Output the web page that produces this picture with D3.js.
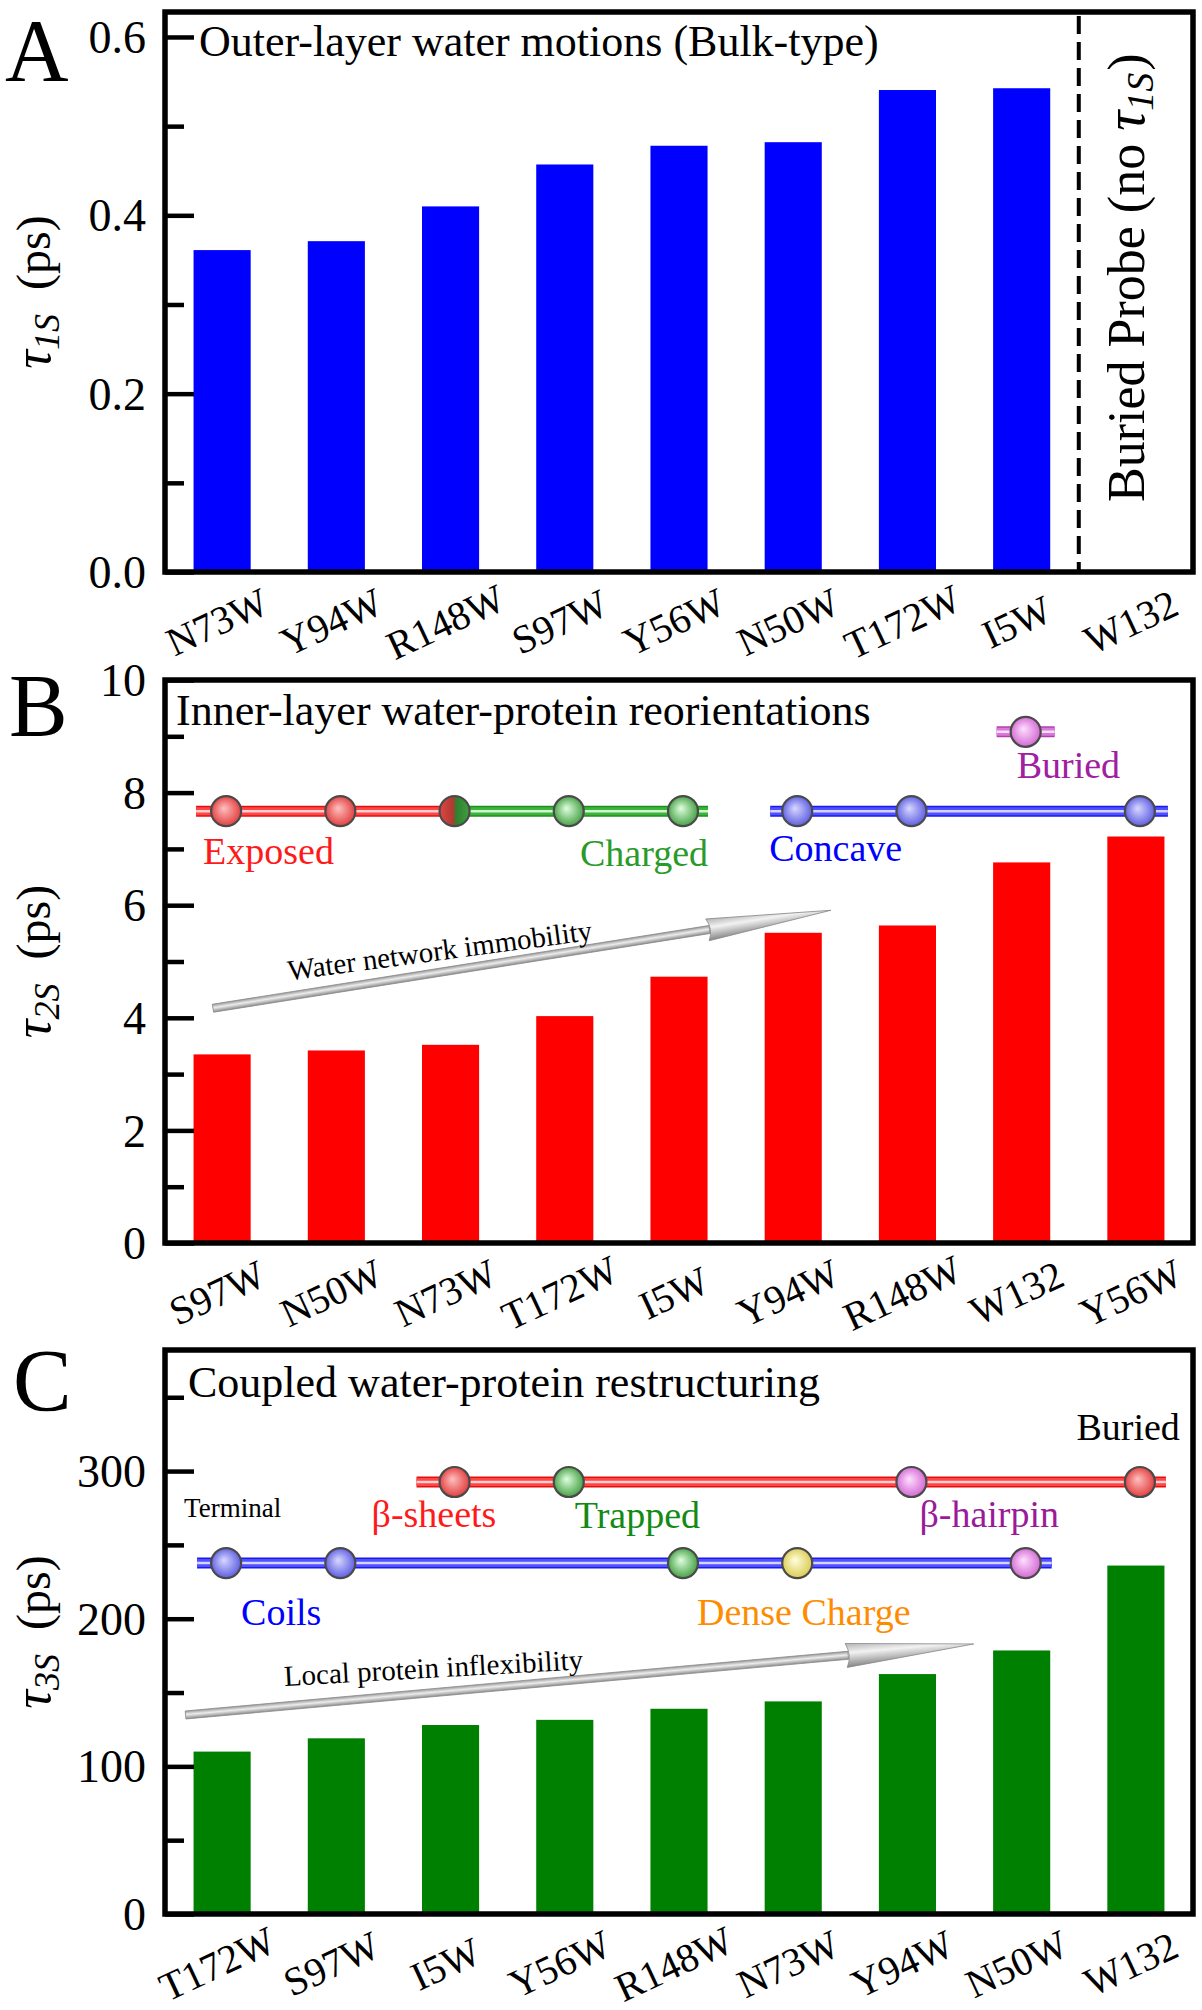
<!DOCTYPE html>
<html><head><meta charset="utf-8">
<script src="https://cdn.jsdelivr.net/npm/d3@7"></script>
<style>
html,body{margin:0;padding:0;background:#fff;}
svg{display:block;}
text{font-family:"Liberation Serif","Times New Roman",serif;}
</style>
</head><body>
<svg id="c" width="1202" height="2010"></svg>
<script>
// ---------------- DATA ----------------
const catsA = ["N73W","Y94W","R148W","S97W","Y56W","N50W","T172W","I5W","W132"];
const valsA = [0.361,0.371,0.410,0.457,0.478,0.482,0.5405,0.5425,null];
const ticksA = [0,0.2,0.4,0.6];
const minorA = [0.1,0.3,0.5];

const catsB = ["S97W","N50W","N73W","T172W","I5W","Y94W","R148W","W132","Y56W"];
const valsB = [3.35,3.42,3.52,4.03,4.73,5.51,5.64,6.76,7.22];
const ticksB = [0,2,4,6,8,10];
const minorB = [1,3,5,7,9];

const catsC = ["T172W","S97W","I5W","Y56W","R148W","N73W","Y94W","N50W","W132"];
const valsC = [110,119,128,131.5,139,144,162.5,178.5,236];
const ticksC = [0,100,200,300];
const minorC = [50,150,250,350];

// class annotations (category, class)
const ballsB = [["S97W","red"],["N50W","red"],["N73W","redgreen"],["T172W","green"],["I5W","green"],
                ["Y94W","blue"],["R148W","blue"],["Y56W","blue"],["W132","pink"]];
const ballLevelsB = [7.67,7.67,7.67,7.67,7.67,7.67,7.67,7.67,9.08];

const ballsC = [["I5W","red"],["Y56W","green"],["Y94W","pink"],["W132","red"],
                ["T172W","blue"],["S97W","blue"],["R148W","green"],["N73W","yellow"],["N50W","pink"]];
const ballLevelsC = [292.6,292.6,292.6,292.6,237.7,237.7,237.7,237.7,237.7];

// ---------------- STYLE ----------------
const PAL = {
  red:{dark:"#e01010",main:"#ff4545",light:"#ffd0d0",c0:"#ffc0c0",c1:"#e03535"},
  green:{dark:"#1f8f1f",main:"#3cb43c",light:"#d0f4d0",c0:"#e0ffe0",c1:"#3a9a3a"},
  blue:{dark:"#1a1aee",main:"#5050ff",light:"#d4d4ff",c0:"#d8d8ff",c1:"#5555e0"},
  pink:{dark:"#b040b0",main:"#d878d8",light:"#f8dcf8",c0:"#ffe0ff",c1:"#d060d0"},
  yellow:{c0:"#ffffe0",c1:"#d8c848"}
};

const svg = d3.select("#c");
const defs = svg.append("defs");
svg.append("rect").attr("width",1202).attr("height",2010).attr("fill","#fff");

Object.keys(PAL).forEach(k=>{
  const g = defs.append("radialGradient").attr("id","ball-"+k)
    .attr("cx",0.5).attr("cy",0.5).attr("r",0.55).attr("fx",0.42).attr("fy",0.4);
  g.append("stop").attr("offset","0%").attr("stop-color",PAL[k].c0);
  g.append("stop").attr("offset","100%").attr("stop-color",PAL[k].c1);
});
{
  const g = defs.append("linearGradient").attr("id","ball-redgreen").attr("x1",0).attr("x2",1).attr("y1",0).attr("y2",0);
  g.append("stop").attr("offset","0%").attr("stop-color","#e04545");
  g.append("stop").attr("offset","45%").attr("stop-color","#b03a30");
  g.append("stop").attr("offset","55%").attr("stop-color","#2f7f2f");
  g.append("stop").attr("offset","100%").attr("stop-color","#3fa03f");
}
{
  const g = defs.append("linearGradient").attr("id","shaft").attr("x1",0).attr("x2",0).attr("y1",0).attr("y2",1);
  g.append("stop").attr("offset","0%").attr("stop-color","#9a9a9a");
  g.append("stop").attr("offset","45%").attr("stop-color","#ececec");
  g.append("stop").attr("offset","100%").attr("stop-color","#8c8c8c");
  const h = defs.append("linearGradient").attr("id","head").attr("x1",0).attr("x2",0).attr("y1",0).attr("y2",1);
  h.append("stop").attr("offset","0%").attr("stop-color","#b4b4b4");
  h.append("stop").attr("offset","40%").attr("stop-color","#f2f2f2");
  h.append("stop").attr("offset","100%").attr("stop-color","#858585");
}

const X0 = 165, X1 = 1193;
const makeX = cats => d3.scaleBand().domain(cats).range([X0,X1]).paddingInner(0.5).paddingOuter(0.25);

function panel(cfg){
  const x = makeX(cfg.cats);
  const y = d3.scaleLinear().domain([0,cfg.ymax]).range([cfg.bottom,cfg.top]);
  const g = svg.append("g");
  const cx = c => x(c) + x.bandwidth()/2;

  // bars
  g.selectAll("rect.bar").data(cfg.cats.map((c,i)=>({c,v:cfg.vals[i]})).filter(d=>d.v!=null))
    .enter().append("rect").attr("class","bar")
    .attr("x",d=>x(d.c)).attr("width",x.bandwidth())
    .attr("y",d=>y(d.v)).attr("height",d=>y(0)-y(d.v))
    .attr("fill",cfg.color);

  // y axis major
  const ax = g.append("g").attr("transform",`translate(${X0},0)`)
    .call(d3.axisLeft(y).tickValues(cfg.ticks).tickFormat(cfg.fmt).tickSizeInner(-29).tickSizeOuter(0).tickPadding(19));
  ax.select(".domain").remove();
  ax.selectAll("line").attr("stroke","#000").attr("stroke-width",4.5);
  ax.selectAll("text").attr("font-family","Liberation Serif, serif").attr("font-size",46).attr("fill","#000").attr("dy","0.34em");
  const mx = g.append("g").attr("transform",`translate(${X0},0)`)
    .call(d3.axisLeft(y).tickValues(cfg.minor).tickFormat("").tickSizeInner(-19).tickSizeOuter(0));
  mx.select(".domain").remove();
  mx.selectAll("line").attr("stroke","#000").attr("stroke-width",4.5);

  // x labels
  g.selectAll("text.xl").data(cfg.cats).enter().append("text").attr("class","xl")
    .attr("transform",d=>`translate(${cx(d)-5},${cfg.bottom+50}) rotate(-25)`)
    .attr("text-anchor","middle").attr("dominant-baseline","central")
    .attr("font-size",40).text(d=>d);

  // frame
  g.append("rect").attr("x",X0).attr("y",cfg.top).attr("width",X1-X0).attr("height",cfg.bottom-cfg.top)
    .attr("fill","none").attr("stroke","#000").attr("stroke-width",5.5);

  // panel letter
  svg.append("text").attr("x",cfg.letterX).attr("y",cfg.letterY).attr("font-size",88).text(cfg.letter);
  // title
  svg.append("text").attr("x",cfg.titleX).attr("y",cfg.titleY).attr("font-size",44).text(cfg.title);
  // y label
  const yl = svg.append("text").attr("transform",`translate(50,${(cfg.top+cfg.bottom)/2}) rotate(-90)`)
    .attr("text-anchor","middle").attr("font-size",48);
  yl.append("tspan").attr("font-style","italic").attr("font-size",52).text("τ");
  yl.append("tspan").attr("font-style","italic").attr("font-size",36).attr("dy",9).text(cfg.sub);
  yl.append("tspan").attr("dy",-9).attr("dx",12).text(" (ps)");
  return {x,y,cx,g};
}

const A = panel({cats:catsA,vals:valsA,ticks:ticksA,minor:minorA,ymax:0.628,top:12,bottom:572,color:"#0000ff",
  fmt:d3.format(".1f"),letter:"A",letterX:5,letterY:80,title:"Outer-layer water motions (Bulk-type)",titleX:199,titleY:56,sub:"1S"});
const B = panel({cats:catsB,vals:valsB,ticks:ticksB,minor:minorB,ymax:10,top:680,bottom:1243,color:"#ff0000",
  fmt:d3.format("d"),letter:"B",letterX:9,letterY:735,title:"Inner-layer water-protein reorientations",titleX:176,titleY:725,sub:"2S"});
const C = panel({cats:catsC,vals:valsC,ticks:ticksC,minor:minorC,ymax:382,top:1350,bottom:1914,color:"#008000",
  fmt:d3.format("d"),letter:"C",letterX:13,letterY:1410,title:"Coupled water-protein restructuring",titleX:188,titleY:1397,sub:"3S"});

// ---- Panel A: dashed separator and buried note ----
{
  const xs = A.x("W132") - A.x.step()*A.x.paddingInner()/2;
  svg.append("line").attr("x1",xs).attr("x2",xs).attr("y1",A.y(0.628)+4).attr("y2",A.y(0))
    .attr("stroke","#000").attr("stroke-width",4).attr("stroke-dasharray","18,8");
  const t = svg.append("text").attr("transform",`translate(${A.cx("W132")+8},${A.y(0.33)}) rotate(-90)`)
    .attr("text-anchor","middle").attr("font-size",52);
  t.append("tspan").text("Buried Probe (no ");
  t.append("tspan").attr("font-style","italic").attr("font-size",56).text("τ");
  t.append("tspan").attr("font-style","italic").attr("font-size",38).attr("dy",9).text("1S");
  t.append("tspan").attr("dy",-9).attr("dx",2).text(")");
}

// ---- tubes & balls ----
function drawTube(P, a, b, col, level, padA, padB){
  const x1 = P.cx(a)+4-padA, x2 = P.cx(b)+4+padB, yy = P.y(level);
  const p = PAL[col];
  [[p.dark,11],[p.main,8],[p.light,2.5]].forEach(([s,w])=>{
    svg.append("line").attr("x1",x1).attr("x2",x2).attr("y1",yy).attr("y2",yy).attr("stroke",s).attr("stroke-width",w);
  });
}
function drawBalls(P, balls, levels){
  svg.selectAll(null).data(balls).enter().append("circle")
    .attr("cx",d=>P.cx(d[0])+4).attr("cy",(d,i)=>P.y(levels[i])).attr("r",15)
    .attr("fill",d=>`url(#ball-${d[1]})`).attr("stroke","#4a4a4a").attr("stroke-width",2.2);
}
// B
drawTube(B,"S97W","N73W","red",7.67,30,0);
drawTube(B,"N73W","I5W","green",7.67,0,25);
drawTube(B,"Y94W","Y56W","blue",7.67,27,28);
drawTube(B,"W132","W132","pink",9.08,29,29);
drawBalls(B, ballsB, ballLevelsB);
// C
drawTube(C,"I5W","W132","red",292.6,38,26);
drawTube(C,"T172W","N50W","blue",237.7,29,26);
drawBalls(C, ballsC, ballLevelsC);

// ---- annotation labels ----
function label(P, cat, dx, level, dy, txt, color, anchor, size){
  svg.append("text").attr("x",P.cx(cat)+dx).attr("y",P.y(level)+dy)
    .attr("text-anchor",anchor||"start").attr("font-size",size||38).attr("fill",color).text(txt);
}
label(B,"S97W",-19,7.67,53,"Exposed","#ff1a1a");
label(B,"I5W",29,7.67,55,"Charged","#2a9a2a","end");
label(B,"Y94W",-24,7.67,50,"Concave","#0000ff");
label(B,"W132",-5,9.08,46,"Buried","#a0209f");

label(C,"W132",44,292.6,-42,"Buried","#000","end");
label(C,"T172W",-38,292.6,35,"Terminal","#000","start",27);
label(C,"I5W",-79,292.6,45,"β-sheets","#ff1a1a");
label(C,"Y56W",10,292.6,46,"Trapped","#138a13");
label(C,"Y94W",12,292.6,45,"β-hairpin","#9a1a9a");
label(C,"T172W",19,237.7,62,"Coils","#0000ff");
label(C,"R148W",18,237.7,62,"Dense Charge","#ff8c00");

// ---- 3D arrows ----
function arrow(P, cats, i0, v0, i1, v1, headLen, headW, txt, tx, tyOff, tAng){
  const idx = d3.scaleLinear().domain([0,cats.length-1]).range([P.cx(cats[0]),P.cx(cats[cats.length-1])]);
  const xa = idx(i0), ya = P.y(v0), xb = idx(i1), yb = P.y(v1);
  const L = Math.hypot(xb-xa,yb-ya), ang = Math.atan2(yb-ya,xb-xa)*180/Math.PI;
  const g = svg.append("g").attr("transform",`translate(${xa},${ya}) rotate(${ang})`);
  g.append("rect").attr("x",0).attr("y",-4).attr("width",L-headLen+2).attr("height",8)
    .attr("fill","url(#shaft)").attr("stroke","#8a8a8a").attr("stroke-width",0.8);
  g.append("path").attr("d",`M${L-headLen},${-headW} L${L},0 L${L-headLen},${headW} Q${L-headLen+6},0 ${L-headLen},${-headW}Z`)
    .attr("fill","url(#head)").attr("stroke","#8a8a8a").attr("stroke-width",0.8);
  const xt = tx, yt = ya + (xt-xa)*(yb-ya)/(xb-xa) - tyOff;
  svg.append("text").attr("transform",`translate(${xt},${yt}) rotate(${tAng})`)
    .attr("text-anchor","middle").attr("font-size",29).text(txt);
}
arrow(B, catsB, -0.08, 4.17, 5.33, 5.91, 125, 11, "Water network immobility", 441, 12, -7.6);
arrow(C, catsC, -0.32, 134.8, 6.58, 182.9, 128, 12, "Local protein inflexibility", 434, 15, -3.2);
</script>
</body></html>
